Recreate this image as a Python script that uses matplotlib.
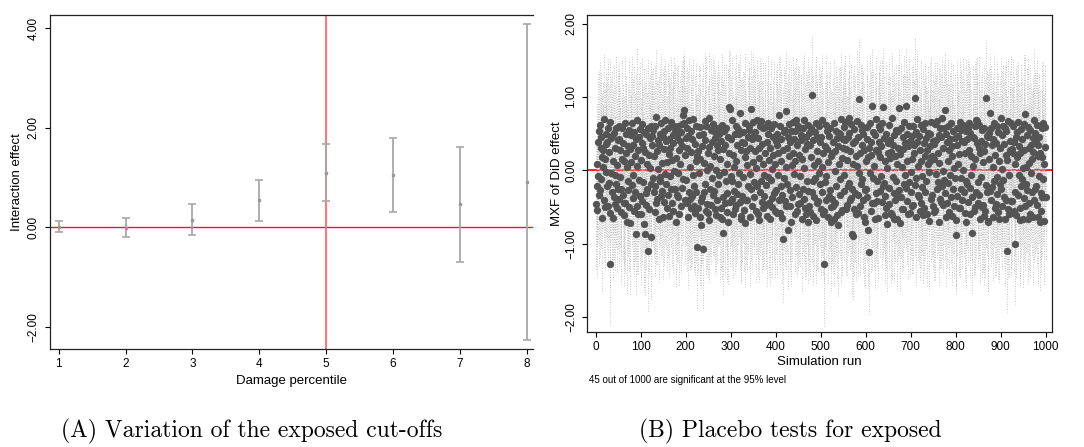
import matplotlib.pyplot as plt
from matplotlib.ticker import FuncFormatter
import numpy as np

plt.rcParams['font.family'] = ['Liberation Sans', 'DejaVu Sans']

# (A) interaction effect by damage percentile cut-off
percentile = [1, 2, 3, 4, 5, 6, 7, 8]
effect = [0.01, -0.01, 0.15, 0.54, 1.10, 1.06, 0.46, 0.92]
ci_low = [-0.09, -0.20, -0.16, 0.13, 0.52, 0.31, -0.70, -2.27]
ci_high = [0.12, 0.18, 0.47, 0.95, 1.68, 1.80, 1.62, 4.09]

# (B) placebo estimates, in hundredths, runs 1..1000
placebo_est = [
    -46, -54, 8, -21, 38, -8, 53, -33, 62, -27, 31, -12, 45, 18, -65, 5, 27, -41, 70, -50, 15, 36, -2, 49, -22,
    38, -49, 57, -17, 25, -128, -58, 66, -3, 44, -30, 47, -65, 12, -36, 51, -6, -46, 30, 58, -19, 7, -52, 41, -26,
    -39, 61, 43, -9, 28, -25, -57, 16, 58, -34, 37, -61, 13, -44, 65, -45, 50, 23, -70, 4, -14, 33, -27, 55, -50,
    29, -72, 48, 11, -20, 64, -7, -38, 35, -55, 52, 20, -29, 42, -87, 68, 6, -48, -60, 27, 45, -13, 56, -35, 14,
    -59, 37, -42, 63, 30, -16, 52, -73, -87, 25, -31, 49, -47, 9, -26, 58, -110, 21, -53, 44, 3, -91, 60, -18, 35,
    47, -11, 55, -30, 19, 61, -21, -57, 72, -44, 26, -39, 41, 2, -66, 34, -9, 50, -15, 64, -35, 10, -28, 46, -64,
    29, -43, 53, -5, 69, -19, 40, -52, 11, 57, -34, 22, -62, 43, -8, 31, -25, 66, -45, 14, 48, -56, 37, -1, 60,
    -26, 54, -71, 17, 45, -33, 60, -4, -37, 28, -60, 40, 8, 52, -49, 63, -24, 33, 75, -12, 82, 64, 21, -40, 44,
    -13, 57, -44, 31, -64, 47, -30, 68, -39, 5, 54, -51, 25, -35, 42, -6, 70, -22, -48, 36, -58, 12, 60, -30, 19,
    -105, 26, -52, 48, -3, -64, 59, 15, -42, -75, 33, -37, 50, -107, 10, -29, 67, -18, 41, -55, 61, 0, -46, 23, -58,
    32, -68, 71, -25, 6, 55, -47, 38, -11, 63, -33, 19, -28, 54, -53, 44, -61, 1, 35, -40, 58, -19, 27, -6, 49,
    -64, 16, -51, 40, 62, -66, -85, 29, -36, 53, -2, -45, 34, -15, 57, -57, 9, -31, 46, -70, 24, 86, -43, 83, -8,
    42, -14, -39, 68, 21, -60, 5, -28, 49, -53, 61, -47, 13, 35, -32, 56, -19, 50, -4, -43, 78, -62, 27, -67, 38,
    -35, 52, -9, 37, -54, 18, -72, 64, 26, -41, 7, -40, 45, -22, 60, 55, -63, 30, -5, 84, -26, 43, -48, 11, 66,
    -16, 48, -37, 26, 52, -56, 3, 68, -22, 44, -59, 17, -68, 30, -29, 61, 67, -15, 36, -43, 9, -51, 57, -7, -35,
    59, 24, -20, -47, -62, 38, -9, 65, 50, -45, 14, -66, 31, 57, -13, 2, -38, -50, 46, 21, -31, 63, -55, 8, 40,
    -27, 34, -58, 49, -6, 23, 75, -41, 60, -58, 12, -21, 43, -65, -33, 28, -94, 52, -11, 55, -42, 4, -49, 81, 30,
    -19, 46, -82, 20, 63, -27, 38, -49, 54, -70, 7, -36, 24, 66, -5, 43, -60, 13, 53, -23, 69, -55, 35, 60, -46,
    21, -32, 57, -8, -44, 41, 48, -67, 16, -25, 57, -39, 69, 3, -52, 29, -60, 45, -14, 36, -71, 62, -28, 51, -48,
    34, -57, 18, 58, -30, 103, -15, 41, -62, 7, -37, 52, -10, 65, -68, 26, 45, -45, 12, -42, 61, -3, -19, 39, -53,
    46, -30, 68, 4, -59, 24, -56, -127, 33, -16, -41, 62, -8, 29, 53, -63, 11, -35, 47, -27, 57, -50, 20, -70, -39,
    23, -48, 38, -66, 64, -1, -45, 26, 54, -22, 44, -61, -75, 33, 9, 51, -34, 49, -12, 70, -57, 17, -54, 42, 30,
    -6, 59, -28, 41, 66, -53, 29, -47, 14, 45, -22, 71, -17, 51, -40, 26, -38, 63, -25, -87, -90, 37, 8, -53, 56,
    40, -31, 20, -60, 67, 6, 46, -33, -58, 97, -4, 23, -48, 62, -19, 35, 55, -12, -41, 50, -64, 28, -27, -70, 12,
    -26, 43, 59, -37, 18, -81, 31, -111, 65, -3, 38, -56, 21, -44, 87, -10, 52, -45, 6, 48, -67, 27, -31, 70, -15,
    -42, 25, -65, 39, 60, -28, 18, 56, -8, 33, -43, 64, -22, 86, -17, 44, -61, -35, 12, -52, 49, 3, -73, 23, 37,
    -24, 62, -46, 17, 41, -58, 25, 71, -61, 35, -9, -31, 48, -66, 20, -40, 55, -14, -67, 9, 53, -36, 30, -27, 85,
    -72, 22, 58, -36, 4, -53, 45, 29, -53, 66, -18, 37, -6, -24, 87, 12, -42, 50, -60, 33, -16, 61, -58, 40, -2,
    -30, 47, 15, -49, 60, -47, 24, 35, 99, -20, 52, -11, -64, 39, 70, -33, 6, -37, 47, -55, 27, 62, -45, 13, -8,
    -23, 56, -61, 37, -51, 20, 64, -29, 44, -14, 28, -60, 8, 51, -2, -69, 33, 13, 50, -39, 66, -34, 19, -48, 40,
    36, -57, 15, -54, 63, -5, 41, -26, 67, -16, 24, -71, 48, 10, -39, 58, -43, 45, -22, 71, -47, 30, -1, 57, -13,
    82, -31, 49, -64, -44, 38, 12, -17, 60, -57, 27, 43, -6, 65, -36, 33, -62, 19, -25, 54, 3, -49, 44, -10, -88,
    -68, 35, 58, -35, 9, 47, -52, 22, -52, 66, -11, 55, -25, 40, -40, 1, 62, -29, 39, -58, 24, -70, 53, -15, 42,
    -18, 57, -43, 28, 64, -24, -60, 51, -7, 20, -37, -85, 46, 6, -55, 44, 60, -50, 16, -30, 68, 37, 67, -16, -45,
    30, -34, 62, -66, 24, -9, 40, -50, 55, -47, 11, 58, -62, 26, -55, 36, -20, 98, 47, -29, -71, 45, -69, 15, 51,
    -28, 78, -40, 57, -23, 34, 5, -63, 43, 65, -15, -52, 21, -46, 37, 60, -9, -32, 52, -57, 13, -67, 30, -19, 71,
    -25, 48, -49, 2, 61, -13, 36, -36, 57, -66, 21, 54, -40, -110, 14, -53, 67, -6, -60, 40, 27, -42, -58, 64, 29,
    -42, 60, 23, -56, 38, -100, 9, -29, 45, -61, 52, 18, -34, 66, -7, 33, -51, -68, 24, -22, 56, -12, 42, -67, 3,
    27, -38, 63, -48, 77, -18, 4, 48, -27, 59, -66, 31, -45, 10, 55, -59, 35, -3, -30, 16, 44, -64, 25, 68, -40,
    51, -25, -22, 39, -47, 62, 20, -63, 34, -8, 46, -70, 24, -31, -55, 18, 57, -36, 65, -12, 9, -69, 59, 32, -36,
]

# half width of each 95% interval, in hundredths
placebo_hw = [
    88, 92, 85, 79, 95, 90, 83, 97, 86, 91, 80, 94, 87, 89, 99, 84, 93, 81, 90, 86, 96, 82, 88, 92, 85,
    90, 87, 94, 83, 91, 83, 98, 86, 92, 80, 95, 88, 84, 97, 89, 93, 82, 90, 86, 99, 85, 91, 87, 94, 81,
    92, 86, 89, 95, 84, 90, 98, 83, 93, 87, 81, 96, 88, 85, 91, 94, 80, 89, 97, 86, 92, 84, 90, 95, 87,
    83, 96, 88, 91, 85, 93, 80, 97, 89, 86, 92, 84, 95, 90, 82, 98, 87, 93, 81, 94, 88, 85, 91, 96, 84,
    97, 89, 86, 92, 84, 95, 88, 90, 83, 94, 80, 91, 87, 96, 85, 93, 82, 99, 88, 86, 92, 84, 89, 95, 81,
    90, 94, 85, 88, 96, 82, 91, 87, 93, 84, 97, 89, 80, 92, 86, 95, 83, 90, 88, 94, 85, 98, 87, 91, 84,
    93, 86, 90, 95, 81, 88, 97, 84, 92, 89, 85, 96, 83, 91, 87, 94, 80, 90, 86, 98, 88, 84, 93, 89, 95,
    86, 92, 88, 83, 97, 90, 85, 94, 89, 81, 96, 87, 92, 84, 91, 88, 95, 83, 82, 90, 80, 86, 94, 88, 92,
    89, 85, 93, 80, 96, 88, 91, 84, 97, 86, 92, 83, 90, 95, 87, 89, 81, 94, 88, 93, 85, 90, 86, 96, 84,
    82, 91, 87, 94, 86, 90, 83, 97, 88, 85, 93, 89, 96, 80, 92, 84, 95, 87, 90, 86, 94, 81, 89, 93, 88,
    95, 84, 89, 92, 86, 98, 81, 90, 87, 94, 83, 91, 88, 96, 85, 93, 80, 89, 97, 86, 92, 84, 90, 95, 87,
    88, 93, 85, 90, 96, 82, 84, 94, 87, 91, 86, 97, 83, 92, 88, 95, 80, 89, 93, 85, 90, 78, 87, 80, 94,
    86, 91, 95, 83, 89, 87, 94, 80, 92, 88, 96, 84, 90, 85, 93, 89, 81, 97, 86, 91, 82, 88, 94, 87, 90,
    92, 85, 89, 96, 83, 91, 87, 94, 80, 90, 86, 98, 84, 92, 88, 85, 95, 89, 81, 80, 97, 86, 90, 84, 93,
    87, 94, 81, 90, 86, 96, 89, 83, 92, 88, 85, 97, 84, 91, 87, 93, 82, 90, 86, 95, 88, 84, 92, 89, 96,
    90, 84, 93, 87, 95, 82, 89, 91, 86, 98, 83, 90, 88, 94, 85, 92, 87, 96, 81, 89, 93, 86, 90, 84, 97,
    85, 92, 88, 96, 83, 90, 84, 87, 94, 81, 91, 86, 95, 89, 92, 84, 86, 90, 97, 83, 88, 93, 85, 82, 90,
    94, 87, 80, 91, 86, 97, 83, 89, 92, 85, 95, 88, 84, 90, 86, 93, 81, 96, 88, 91, 85, 89, 94, 83, 90,
    88, 95, 84, 90, 86, 92, 83, 97, 89, 85, 93, 87, 91, 80, 96, 88, 84, 90, 86, 94, 82, 89, 93, 87, 91,
    86, 91, 88, 84, 95, 82, 90, 87, 93, 85, 96, 83, 89, 92, 86, 94, 81, 90, 88, 95, 84, 91, 87, 93, 89,
    92, 86, 90, 94, 83, 88, 96, 85, 89, 91, 84, 97, 87, 93, 80, 90, 86, 95, 88, 82, 92, 85, 89, 94, 87,
    84, 93, 88, 91, 86, 95, 82, 90, 87, 94, 85, 89, 96, 83, 91, 88, 86, 93, 80, 90, 97, 84, 89, 92, 86,
    90, 87, 94, 83, 92, 88, 85, 96, 89, 81, 93, 86, 90, 84, 95, 88, 92, 83, 91, 84, 85, 97, 86, 90, 88,
    87, 93, 85, 90, 96, 82, 89, 94, 86, 83, 91, 88, 95, 84, 92, 87, 90, 81, 97, 86, 93, 89, 85, 91, 88,
    94, 86, 91, 88, 84, 79, 90, 85, 93, 87, 96, 82, 89, 92, 80, 95, 86, 90, 88, 84, 93, 87, 91, 85, 89,
    88, 92, 86, 95, 83, 90, 87, 94, 81, 91, 89, 86, 96, 80, 92, 85, 93, 88, 90, 84, 97, 86, 91, 87, 94,
    85, 91, 88, 93, 86, 96, 82, 90, 87, 94, 84, 89, 92, 85, 97, 83, 90, 88, 95, 86, 91, 84, 93, 89, 82,
    93, 87, 90, 84, 95, 88, 86, 92, 83, 91, 87, 94, 89, 85, 80, 93, 86, 90, 88, 96, 84, 91, 87, 92, 86,
    89, 94, 85, 91, 87, 93, 82, 90, 81, 96, 88, 84, 92, 86, 95, 89, 83, 91, 87, 94, 85, 90, 88, 93, 86,
    91, 85, 93, 87, 89, 95, 83, 90, 86, 92, 84, 97, 88, 91, 85, 93, 80, 89, 96, 86, 90, 84, 92, 87, 94,
    86, 92, 88, 95, 84, 90, 87, 93, 82, 96, 89, 85, 91, 88, 94, 83, 90, 86, 97, 84, 92, 88, 85, 91, 87,
    79, 90, 86, 93, 88, 84, 95, 87, 91, 85, 92, 89, 96, 83, 90, 87, 94, 81, 89, 92, 86, 95, 88, 84, 80,
    93, 87, 91, 85, 96, 82, 90, 88, 94, 86, 89, 83, 92, 87, 95, 84, 91, 88, 86, 93, 85, 90, 97, 86, 89,
    88, 94, 86, 91, 84, 95, 87, 90, 83, 92, 88, 82, 96, 85, 91, 87, 89, 93, 86, 90, 84, 94, 88, 92, 85,
    91, 86, 93, 88, 84, 90, 87, 95, 82, 92, 89, 86, 94, 83, 91, 88, 85, 79, 90, 87, 93, 86, 96, 84, 89,
    87, 80, 90, 86, 95, 83, 92, 88, 85, 94, 89, 91, 86, 97, 84, 90, 87, 93, 82, 91, 88, 85, 94, 86, 83,
    92, 88, 85, 96, 83, 90, 87, 94, 86, 91, 84, 95, 88, 83, 89, 92, 86, 90, 85, 97, 88, 91, 84, 93, 87,
    86, 93, 89, 84, 92, 82, 90, 87, 95, 85, 91, 88, 94, 83, 90, 86, 93, 89, 84, 96, 87, 91, 85, 92, 88,
    90, 85, 94, 88, 80, 92, 86, 91, 84, 95, 89, 87, 93, 82, 90, 88, 85, 94, 86, 91, 83, 92, 88, 96, 85,
    89, 92, 86, 94, 83, 90, 88, 95, 85, 91, 87, 93, 84, 90, 86, 92, 89, 81, 82, 88, 94, 86, 84, 91, 85,
]

sig_note = '45 out of 1000 are significant at the 95% level'


def stata_fmt(v, pos):
    return f'{v:.2f}'.replace('-', '\u2212')


def style_axis(ax):
    ax.tick_params(direction='out', length=3.6, width=0.8, labelsize=8.5, colors='black')
    ax.tick_params(axis='x', pad=2.5)
    ax.tick_params(axis='y', pad=3.5, labelrotation=90)
    for lbl in ax.get_yticklabels():
        lbl.set_va('center')
    ax.yaxis.set_major_formatter(FuncFormatter(stata_fmt))
    for s in ax.spines.values():
        s.set_linewidth(0.9)
        s.set_color('#222222')


fig = plt.figure(figsize=(10.84, 4.47), dpi=100)

# ---- panel A
ax1 = fig.add_axes([49.7 / 1084, 1 - 349.3 / 447, 483.3 / 1084, 334.6 / 447])
eff = np.array(effect)
yerr = [eff - np.array(ci_low), np.array(ci_high) - eff]
ax1.axhline(0, color='#e02020', lw=1.0, zorder=1)
ax1.axvline(5, color='#ff7b7b', lw=1.5, zorder=1)
ax1.errorbar(percentile, effect, yerr=yerr, fmt='s', ms=1.8, color='#999999',
             ecolor='#a8a8a8', elinewidth=1.3, capsize=3, capthick=1.2, zorder=2)
ax1.set_xlim(0.865, 8.094)
ax1.set_ylim(-2.452, 4.273)
ax1.set_xticks(percentile)
ax1.set_yticks([-2, 0, 2, 4])
ax1.spines['right'].set_visible(False)
style_axis(ax1)
ax1.set_xlabel('Damage percentile', fontsize=9.5)
ax1.set_ylabel('Interaction effect', fontsize=9.5)
ax1.xaxis.set_label_coords(0.5, -0.0947)
ax1.xaxis.label.set_va('center')
ax1.yaxis.set_label_coords(-0.067, 0.5)
ax1.yaxis.label.set_va('center')

# ---- panel B
ax2 = fig.add_axes([587.3 / 1084, 1 - 332.3 / 447, 465 / 1084, 317.6 / 447])
runs = np.arange(1, len(placebo_est) + 1)
est = np.array(placebo_est) / 100
hw = np.array(placebo_hw) / 100
ax2.axhline(0, color='#ff1010', lw=1.3, zorder=1)
ax2.vlines(runs, est - hw, est + hw, colors='#b4b4b4', linestyles=(0, (1, 2)),
           linewidth=0.6, zorder=2)
ax2.scatter(runs, est, s=28, color='#545454', linewidths=0, zorder=3)
ax2.set_xlim(-18.5, 1014.8)
ax2.set_ylim(-2.207, 2.12)
ax2.set_xticks(np.arange(0, 1001, 100))
ax2.set_yticks([-2, -1, 0, 1, 2])
style_axis(ax2)
ax2.set_xlabel('Simulation run', fontsize=9.5)
ax2.set_ylabel('MXF of DiD effect', fontsize=9.5)
ax2.xaxis.set_label_coords(0.5, -0.0926)
ax2.xaxis.label.set_va('center')
ax2.yaxis.set_label_coords(-0.0658, 0.5)
ax2.yaxis.label.set_va('center')
fig.text(589 / 1084, 1 - 380 / 447, sig_note, fontsize=7, va='center', ha='left')

# captions
fig.text(252 / 1084, 1 - 431 / 447, '(A) Variation of the exposed cut-offs',
         family='cmr10', fontsize=17, ha='center', va='center')
fig.text(790 / 1084, 1 - 431 / 447, '(B) Placebo tests for exposed',
         family='cmr10', fontsize=17, ha='center', va='center')

fig.savefig('out.png', dpi=100)
